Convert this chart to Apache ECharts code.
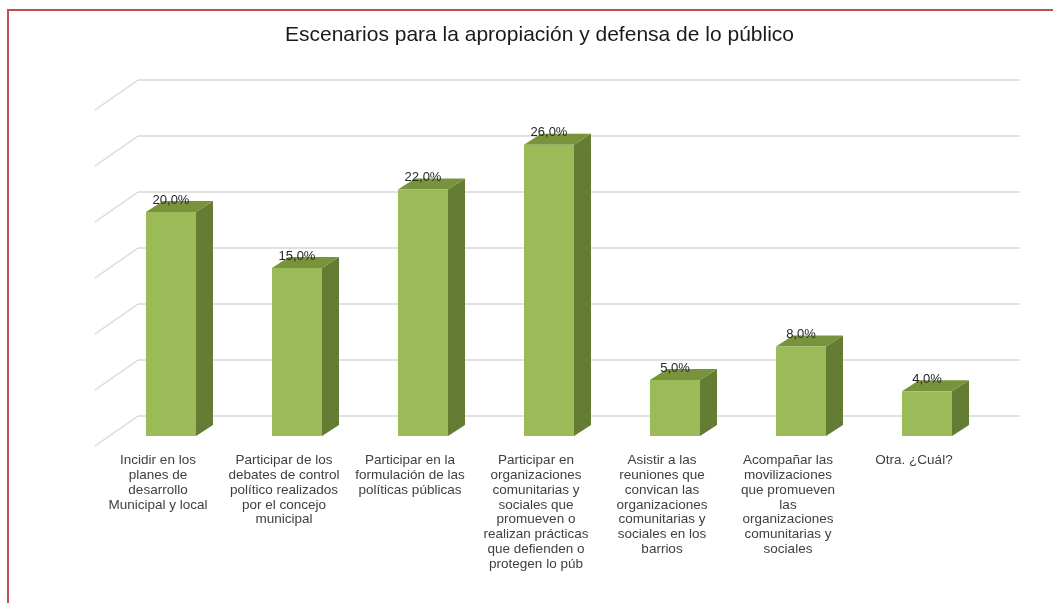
<!DOCTYPE html>
<html>
<head>
<meta charset="utf-8">
<script src="https://cdn.jsdelivr.net/npm/echarts@6/dist/echarts.min.js"></script>
<style>
  html, body { margin: 0; padding: 0; background: #fff; }
  #chart { width: 1053px; height: 603px; }
</style>
</head>
<body>
<div id="chart"></div>
<script>
// Scenarios and their share of responses (%)
const categories = [
  'Incidir en los\nplanes de\ndesarrollo\nMunicipal y local',
  'Participar de los\ndebates de control\npolítico realizados\npor el concejo\nmunicipal',
  'Participar en la\nformulación de las\npolíticas públicas',
  'Participar en\norganizaciones\ncomunitarias y\nsociales que\npromueven o\nrealizan prácticas\nque defienden o\nprotegen lo púb',
  'Asistir a las\nreuniones que\nconvican las\norganizaciones\ncomunitarias y\nsociales en los\nbarrios',
  'Acompañar las\nmovilizaciones\nque promueven\nlas\norganizaciones\ncomunitarias y\nsociales',
  'Otra. ¿Cuál?'
];
const values = [20, 15, 22, 26, 5, 8, 4];
const axisTicks = [0, 5, 10, 15, 20, 25, 30];

const FONT = '"Liberation Sans", Arial, sans-serif';
const DEPTH_X = 17, DEPTH_Y = 11;      // bar extrusion
const WALL_X = 43, WALL_Y = 30;        // side wall extrusion

const chart = echarts.init(document.getElementById('chart'), null, { renderer: 'canvas' });

function fmt(v) { return v.toFixed(1).replace('.', ',') + '%'; }

const option = {
  backgroundColor: '#ffffff',
  animation: false,
  title: {
    text: 'Escenarios para la apropiación y defensa de lo público',
    left: 280,
    top: 20,
    textStyle: { fontFamily: FONT, fontSize: 21, fontWeight: 'normal', color: '#1a1a1a' }
  },
  graphic: [{
    type: 'rect',
    shape: { x: 8, y: 10, width: 1100, height: 700 },
    style: { fill: 'none', stroke: '#c0504d', lineWidth: 2 },
    z: 100
  }],
  grid: [
    { left: 108, top: 100, width: 882, height: 336 },   // bar front plane
    { left: 138, top: 80, width: 882, height: 336 },    // back wall
    { left: 95, top: 100, width: 882, height: 336 }     // floor front edge (labels)
  ],
  xAxis: [
    { type: 'category', gridIndex: 0, data: categories, show: false },
    { type: 'category', gridIndex: 1, data: categories, show: false },
    {
      type: 'category', gridIndex: 2, data: categories,
      axisLine: { show: false }, axisTick: { show: false },
      axisLabel: {
        interval: 0, margin: 17, fontFamily: FONT, fontSize: 13.5,
        lineHeight: 14.8, color: '#404040', align: 'center'
      }
    }
  ],
  yAxis: [
    { type: 'value', gridIndex: 0, min: 0, max: 30, interval: 5, show: false },
    {
      type: 'value', gridIndex: 1, min: 0, max: 30, interval: 5,
      axisLine: { show: false }, axisTick: { show: false }, axisLabel: { show: false },
      splitLine: { show: true, lineStyle: { color: '#d9d9d9', width: 1.5 } }
    },
    { type: 'value', gridIndex: 2, min: 0, max: 30, show: false }
  ],
  series: [
    {
      // side wall gridlines
      type: 'custom',
      xAxisIndex: 1, yAxisIndex: 1,
      data: axisTicks,
      silent: true,
      renderItem: function (params, api) {
        const p = api.coord([0, api.value(0)]);
        const half = api.size([1, 0])[0] / 2;
        const x = p[0] - half, y = p[1];
        return {
          type: 'line',
          shape: { x1: x, y1: y, x2: x - WALL_X, y2: y + WALL_Y },
          style: { stroke: '#d9d9d9', lineWidth: 1.5 }
        };
      },
      encode: { y: 0 }
    },
    {
      type: 'custom',
      xAxisIndex: 0, yAxisIndex: 0,
      data: values.map((v, i) => [i, v]),
      renderItem: function (params, api) {
        const i = api.value(0), v = api.value(1);
        const top = api.coord([i, v]);
        const base = api.coord([i, 0]);
        const w = api.size([1, 0])[0] * 0.397;
        const x0 = top[0] - w / 2, x1 = top[0] + w / 2;
        const yt = top[1], yb = base[1];
        return {
          type: 'group',
          children: [
            {
              type: 'polygon',
              shape: { points: [[x1, yt], [x1 + DEPTH_X, yt - DEPTH_Y], [x1 + DEPTH_X, yb - DEPTH_Y], [x1, yb]] },
              style: { fill: '#647c33' }
            },
            {
              type: 'polygon',
              shape: { points: [[x0, yt], [x0 + DEPTH_X, yt - DEPTH_Y], [x1 + DEPTH_X, yt - DEPTH_Y], [x1, yt]] },
              style: { fill: '#77933c' }
            },
            {
              type: 'rect',
              shape: { x: x0, y: yt, width: w, height: yb - yt },
              style: { fill: '#9bbb59' }
            },
            {
              type: 'text',
              x: top[0], y: yt - 12,
              style: {
                text: fmt(v), fontFamily: FONT, fontSize: 13, fill: '#262626',
                align: 'center', verticalAlign: 'middle'
              }
            }
          ]
        };
      },
      encode: { x: 0, y: 1 }
    }
  ]
};

chart.setOption(option);
</script>
</body>
</html>
